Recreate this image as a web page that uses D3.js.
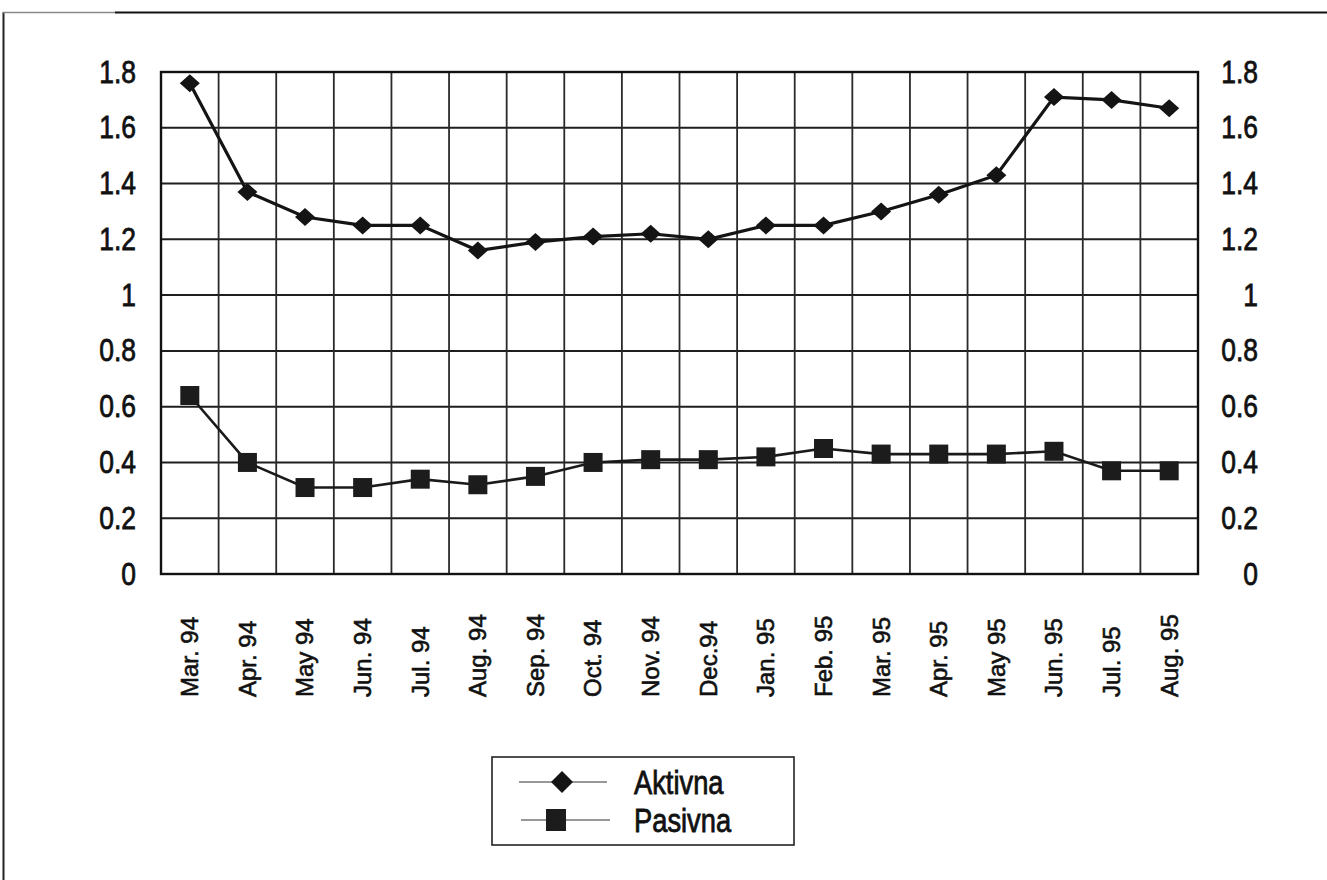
<!DOCTYPE html>
<html>
<head>
<meta charset="utf-8">
<script src="https://cdn.jsdelivr.net/npm/d3@7"></script>
<style>
  html, body { margin: 0; padding: 0; background: #fff; }
  svg { display: block; }
  text { font-family: "Liberation Sans", Arial, Helvetica, sans-serif; }
</style>
</head>
<body>
<svg id="chart" width="1327" height="880"></svg>
<script>
// Monthly series, Mar. 94 – Aug. 95
const months = ["Mar. 94", "Apr. 94", "May 94", "Jun. 94", "Jul. 94", "Aug. 94",
  "Sep. 94", "Oct. 94", "Nov. 94", "Dec.94", "Jan. 95", "Feb. 95",
  "Mar. 95", "Apr. 95", "May 95", "Jun. 95", "Jul. 95", "Aug. 95"];
const aktivna = [1.76, 1.37, 1.28, 1.25, 1.25, 1.16, 1.19, 1.21, 1.22, 1.20,
  1.25, 1.25, 1.30, 1.36, 1.43, 1.71, 1.70, 1.67];
const pasivna = [0.64, 0.40, 0.31, 0.31, 0.34, 0.32, 0.35, 0.40, 0.41, 0.41,
  0.42, 0.45, 0.43, 0.43, 0.43, 0.44, 0.37, 0.37];
const yTicks = [0, 0.2, 0.4, 0.6, 0.8, 1, 1.2, 1.4, 1.6, 1.8];
const seriesNames = ["Aktivna", "Pasivna"];

const svg = d3.select("#chart");
const plot = { left: 161, right: 1198, top: 72, bottom: 574 };
const squeeze = 0.84;   // condensed look for horizontal text
const ink = "#111";

// page frame
svg.append("line").attr("x1", 3.5).attr("x2", 3.5).attr("y1", 12).attr("y2", 880)
  .attr("stroke", "#222").attr("stroke-width", 2);
svg.append("line").attr("x1", 3).attr("x2", 115).attr("y1", 12.5).attr("y2", 12.5)
  .attr("stroke", "#888").attr("stroke-width", 1.5);
svg.append("line").attr("x1", 115).attr("x2", 1327).attr("y1", 12.5).attr("y2", 12.5)
  .attr("stroke", "#111").attr("stroke-width", 2.2);

const x = d3.scaleBand().domain(months).range([plot.left, plot.right]).padding(0);
const y = d3.scaleLinear().domain([0, 1.8]).range([plot.bottom, plot.top]);
const fmt = d => String(+d.toFixed(1));

// grid
const grid = svg.append("g");
grid.selectAll("line.h").data(yTicks).join("line").attr("class", "h")
  .attr("x1", plot.left).attr("x2", plot.right)
  .attr("y1", d => y(d)).attr("y2", d => y(d))
  .attr("stroke", "#1e1e1e").attr("stroke-width", 2);
grid.selectAll("line.v").data(months.slice(1)).join("line").attr("class", "v")
  .attr("x1", d => x(d)).attr("x2", d => x(d))
  .attr("y1", plot.top).attr("y2", plot.bottom)
  .attr("stroke", "#2a2a2a").attr("stroke-width", 1.8);
svg.append("rect").attr("x", plot.left).attr("y", plot.top)
  .attr("width", plot.right - plot.left).attr("height", plot.bottom - plot.top)
  .attr("fill", "none").attr("stroke", "#111").attr("stroke-width", 2.4);

// y axes on both sides
const leftAxis = svg.append("g")
  .attr("transform", `translate(${plot.left},0)`)
  .call(d3.axisLeft(y).tickValues(yTicks).tickFormat(fmt).tickSize(0));
leftAxis.selectAll("text").attr("text-anchor", "end").attr("x", -25 / squeeze);
const rightAxis = svg.append("g")
  .attr("transform", `translate(${plot.right},0)`)
  .call(d3.axisRight(y).tickValues(yTicks).tickFormat(fmt).tickSize(0));
rightAxis.selectAll("text").attr("text-anchor", "end").attr("x", 60 / squeeze);
[leftAxis, rightAxis].forEach(a => {
  a.select(".domain").remove();
  a.attr("font-family", null).attr("font-size", null);
  a.selectAll("text").attr("font-size", 31.5).attr("fill", ink)
    .attr("stroke", ink).attr("stroke-width", 0.8)
    .attr("transform", `scale(${squeeze},1)`);
});

// x axis with vertical month labels
const xAxis = svg.append("g")
  .attr("transform", `translate(0,${plot.bottom})`)
  .call(d3.axisBottom(x).tickSize(0));
xAxis.select(".domain").remove();
xAxis.attr("font-family", null).attr("font-size", null);
xAxis.selectAll("text")
  .attr("font-size", 24).attr("fill", ink)
  .attr("stroke", ink).attr("stroke-width", 0.6)
  .attr("text-anchor", "start")
  .attr("x", 0).attr("y", 0).attr("dy", "0.35em")
  .attr("transform", "translate(0,123) rotate(-90)");

// series
const line = d3.line().x((d, i) => x(months[i]) + x.bandwidth() / 2).y(d => y(d));
svg.append("path").datum(aktivna).attr("d", line)
  .attr("fill", "none").attr("stroke", "#141414").attr("stroke-width", 3.2);
svg.append("path").datum(pasivna).attr("d", line)
  .attr("fill", "none").attr("stroke", "#1a1a1a").attr("stroke-width", 2.6);

const diamond = (cx, cy, w, h) => `M${cx},${cy - h / 2}L${cx + w / 2},${cy}L${cx},${cy + h / 2}L${cx - w / 2},${cy}Z`;
svg.append("g").selectAll("path").data(aktivna).join("path")
  .attr("d", (d, i) => diamond(x(months[i]) + x.bandwidth() / 2, y(d), 20, 18))
  .attr("fill", "#141414");
svg.append("g").selectAll("rect").data(pasivna).join("rect")
  .attr("x", (d, i) => x(months[i]) + x.bandwidth() / 2 - 9.5)
  .attr("y", d => y(d) - 9.5)
  .attr("width", 19).attr("height", 19)
  .attr("fill", "#1c1c1c");

// legend
const lg = svg.append("g");
lg.append("rect").attr("x", 492).attr("y", 757).attr("width", 302).attr("height", 88)
  .attr("fill", "#fff").attr("stroke", "#222").attr("stroke-width", 1.6);
const legendRows = [
  { name: seriesNames[0], y: 782, marker: "diamond", mx: 562, x1: 519, x2: 607 },
  { name: seriesNames[1], y: 820, marker: "square", mx: 556, x1: 521, x2: 610 }
];
legendRows.forEach(r => {
  lg.append("line").attr("x1", r.x1).attr("x2", r.x2).attr("y1", r.y).attr("y2", r.y)
    .attr("stroke", "#333").attr("stroke-width", 1.2);
  if (r.marker === "diamond") {
    lg.append("path").attr("d", diamond(r.mx, r.y, 22, 22)).attr("fill", "#141414");
  } else {
    lg.append("rect").attr("x", r.mx - 10).attr("y", r.y - 11).attr("width", 20).attr("height", 22)
      .attr("fill", "#1c1c1c");
  }
  lg.append("text").attr("transform", `translate(634,${r.y + 11.5}) scale(${squeeze},1)`)
    .attr("font-size", 32.5).attr("fill", ink)
    .attr("stroke", ink).attr("stroke-width", 0.8)
    .text(r.name);
});
</script>
</body>
</html>
